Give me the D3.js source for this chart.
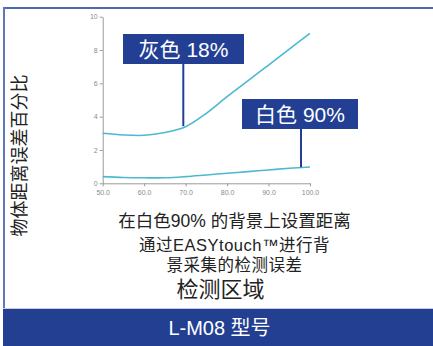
<!DOCTYPE html>
<html><head><meta charset="utf-8">
<script src="https://cdn.jsdelivr.net/npm/d3@7/dist/d3.min.js"></script>
<style>body{margin:0;background:#fff}svg{display:block}</style>
</head><body>
<svg id="c" width="433" height="346"></svg>
<script>
const xTicks = [50, 60, 70, 80, 90, 100];
const yTicks = [0, 2, 4, 6, 8, 10];
const distance = [50, 55, 60, 65, 70, 75, 80, 85, 90, 95, 100];
const gray18 = [3.0, 2.9, 2.88, 3.05, 3.4, 4.2, 5.2, 6.15, 7.1, 8.05, 9.0];
const white90 = [0.4, 0.35, 0.33, 0.33, 0.4, 0.5, 0.6, 0.7, 0.8, 0.9, 0.98];
const labelGray = "灰色 18%";
const labelWhite = "白色 90%";
const yTitle = "物体距离误差百分比";
const caption = ["在白色90% 的背景上设置距离", "通过EASYtouch™进行背", "景采集的检测误差"];
const xTitle = "检测区域";
const footer = "L-M08 型号";

const svg = d3.select("#c");
const font = "'Liberation Sans','Noto Sans CJK SC',sans-serif";
const cjk = "'Noto Sans CJK SC','Noto Sans',sans-serif";
const navy = "#223f94";

// frame
svg.append("rect").attr("x", 3).attr("y", 7).attr("width", 430).attr("height", 2).attr("fill", "#4f68b0");
svg.append("rect").attr("x", 3).attr("y", 7).attr("width", 2).attr("height", 302).attr("fill", "#6077b8");
svg.append("rect").attr("x", 3).attr("y", 308).attr("width", 430).attr("height", 1).attr("fill", "#c5cbe0");
svg.append("rect").attr("x", 3).attr("y", 309).attr("width", 430).attr("height", 37).attr("fill", "#223f92");

const x = d3.scaleLinear().domain([50, 100]).range([102.7, 310]);
const y = d3.scaleLinear().domain([0, 10]).range([183.3, 16.7]);

const gx = svg.append("g").attr("transform", `translate(0,${y(0)})`)
  .call(d3.axisBottom(x).tickValues(xTicks).tickFormat(d3.format(".1f")).tickSize(3).tickSizeOuter(0));
const gy = svg.append("g").attr("transform", `translate(${x(50)},0)`)
  .call(d3.axisLeft(y).tickValues(yTicks).tickFormat(d3.format("d")).tickSize(3).tickSizeOuter(0));
[gx, gy].forEach(g => {
  g.select(".domain").attr("stroke", "#9a9a9a").attr("stroke-width", 1);
  g.selectAll(".tick line").attr("stroke", "#9a9a9a");
  g.selectAll(".tick text").attr("fill", "#8a8a8a").attr("font-size", 7).attr("font-family", "'Liberation Sans',Arial,sans-serif");
});
gx.selectAll(".tick text").attr("dy", "0.9em").attr("y", 5);
gy.selectAll(".tick text").attr("x", -5);

const line = d3.line().x((d, i) => x(distance[i])).y(d => y(d)).curve(d3.curveCatmullRom.alpha(0.5));
[gray18, white90].forEach(s => {
  svg.append("path").datum(s).attr("d", line).attr("fill", "none")
    .attr("stroke", "#4cb9d2").attr("stroke-width", 1.6);
});

function callout(bx, by, bw, bh, text, lx, dx) {
  svg.append("line").attr("x1", lx).attr("x2", lx).attr("y1", by + bh).attr("y2", y(dx))
    .attr("stroke", navy).attr("stroke-width", 2);
  svg.append("rect").attr("x", bx).attr("y", by).attr("width", bw).attr("height", bh).attr("fill", navy);
  svg.append("text").attr("x", bx + bw / 2).attr("y", by + bh / 2).attr("dy", "0.36em")
    .attr("text-anchor", "middle").attr("fill", "#fff").attr("font-size", 21)
    .attr("font-family", font).text(text);
}
callout(123, 34, 121, 30, labelGray, 183.3, 3.43);
callout(242, 99, 116, 30, labelWhite, 301, 0.96);

svg.append("text").attr("transform", "translate(19.5,155.5) rotate(-90)")
  .attr("text-anchor", "middle").attr("dy", "0.36em").attr("font-size", 18)
  .attr("font-family", cjk).attr("fill", "#222").text(yTitle);

const capY = [220.7, 245.4, 264.6];
const capSize = [17.5, 16.5, 16.5];
const capBlock = svg.append("text").attr("font-family", font).attr("fill", "#222").attr("text-anchor", "middle");
caption.forEach((t, i) => {
  capBlock.append("tspan").attr("x", 234.5).attr("y", capY[i]).attr("dy", "0.36em")
    .attr("font-size", capSize[i]).attr("letter-spacing", i ? 0.5 : 0).text(t);
});
capBlock.append("tspan").attr("x", 220.5).attr("y", 289.5).attr("dy", "0.36em")
  .attr("font-size", 22).attr("letter-spacing", 0).text(xTitle);
svg.append("text").attr("x", 219.5).attr("y", 328).attr("dy", "0.36em")
  .attr("text-anchor", "middle").attr("font-size", 20).attr("font-family", font)
  .attr("fill", "#fff").text(footer);
</script>
</body></html>
